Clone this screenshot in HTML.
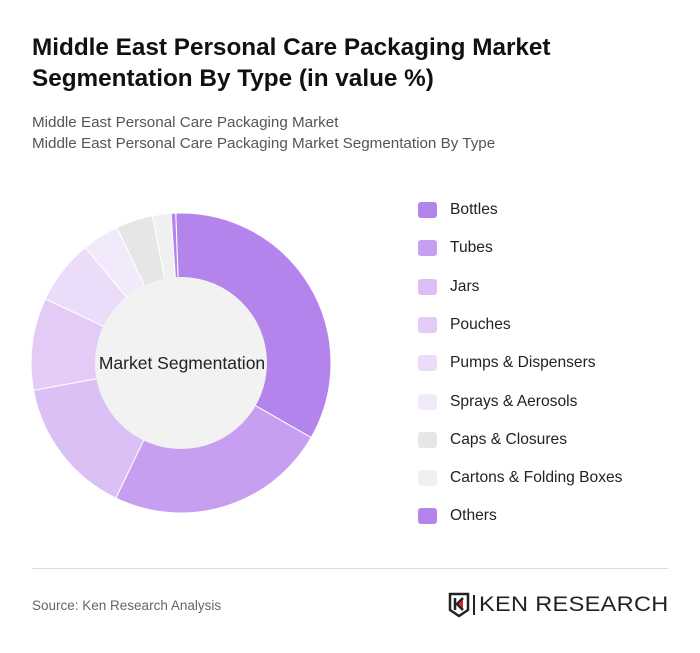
<!DOCTYPE html>
<html><head><meta charset="utf-8"><style>
body{margin:0;width:700px;height:653px;background:#fff;font-family:"Liberation Sans",sans-serif;overflow:hidden;position:relative}
h1{position:absolute;left:32px;top:32px;margin:0;font-size:24.3px;line-height:31px;font-weight:bold;color:#111;width:640px}
.sub{position:absolute;left:32px;font-size:15.2px;color:#555}
.leg{position:absolute;left:418px;font-size:15.6px;color:#222}
.leg span.sw{position:absolute;left:0;top:0;width:19px;height:16px;border-radius:3px}
.leg span.t{position:absolute;left:32px;top:-1px;white-space:nowrap}
</style></head><body>
<h1>Middle East Personal Care Packaging Market Segmentation By Type (in value %)</h1>
<div class="sub" style="top:114px">Middle East Personal Care Packaging Market</div>
<div class="sub" style="top:135px">Middle East Personal Care Packaging Market Segmentation By Type</div>
<svg id="chart" width="700" height="653" style="position:absolute;left:0;top:0"></svg>
<div id="legend"></div>
<div style="position:absolute;left:32px;top:568px;width:636px;height:1px;background:#ddd"></div>
<div style="position:absolute;left:32px;top:598px;font-size:13.5px;color:#666">Source: Ken Research Analysis</div>
<div style="position:absolute;left:448px;top:592px;width:222px;height:26px">
<svg width="22" height="26" style="position:absolute;left:0;top:0"><path d="M2 2h18v16l-9 6-9-6z" fill="none" stroke="#222" stroke-width="2.5"/><path d="M7 6v12M15 6l-6 6 6 6" fill="none" stroke="#222" stroke-width="2.5"/><path d="M10 12l5-4v8z" fill="#d22"/></svg>
<div style="position:absolute;left:25px;top:3px;width:2px;height:20px;background:#222"></div>
<div style="position:absolute;left:31px;top:1px;font-size:21px;letter-spacing:0.3px;color:#222;white-space:nowrap;transform:scaleX(1.12);transform-origin:left">KEN RESEARCH</div>
</div>
<script>
const categories=["Bottles","Tubes","Jars","Pouches","Pumps & Dispensers","Sprays & Aerosols","Caps & Closures","Cartons & Folding Boxes","Others"];
const values=[34,24,15,10,7,4,4,2,0.5];
const colors=["#b385ec","#c69ff0","#dbc0f5","#e2ccf6","#ebdcf9","#f2eafb","#e6e6e6","#f0f0f0","#b385ec"];
const NS="http://www.w3.org/2000/svg";
const svg=document.getElementById('chart');
const cx=181,cy=363,R=150,r=86,start=-2*Math.PI/180;
const total=values.reduce((a,b)=>a+b,0);
function pt(a,rad){return [cx+rad*Math.sin(a),cy-rad*Math.cos(a)];}
let acc=0;
values.forEach((v,i)=>{
  const a0=start+acc/total*2*Math.PI;acc+=v;const a1=start+acc/total*2*Math.PI;
  const [x0,y0]=pt(a0,R),[x1,y1]=pt(a1,R);
  const large=(a1-a0)>Math.PI?1:0;
  const p=document.createElementNS(NS,'path');
  p.setAttribute('d',`M${cx},${cy}L${x0},${y0}A${R},${R} 0 ${large} 1 ${x1},${y1}Z`);
  p.setAttribute('fill',colors[i]);p.setAttribute('stroke','#fff');p.setAttribute('stroke-width','1');
  
  
  svg.appendChild(p);
});
const c=document.createElementNS(NS,'circle');
c.setAttribute('cx',cx);c.setAttribute('cy',cy);c.setAttribute('r',r);c.setAttribute('fill','#f2f2f2');


svg.appendChild(c);
const t=document.createElementNS(NS,'text');
t.setAttribute('x',cx+1);t.setAttribute('y',cy+6);t.setAttribute('text-anchor','middle');
t.setAttribute('font-size','17.5');t.setAttribute('fill','#222');t.setAttribute('font-family','Liberation Sans, sans-serif');
t.textContent='Market Segmentation';


svg.appendChild(t);
const lg=document.getElementById('legend');
categories.forEach((n,i)=>{
  const d=document.createElement('div');d.className='leg';d.style.top=(202+i*38.3)+'px';
  d.innerHTML=`<span class="sw" style="background:${colors[i]}"></span><span class="t">${n.replace('&','&amp;')}</span>`;
  
  
  lg.appendChild(d);
});
</script>
</body></html>
